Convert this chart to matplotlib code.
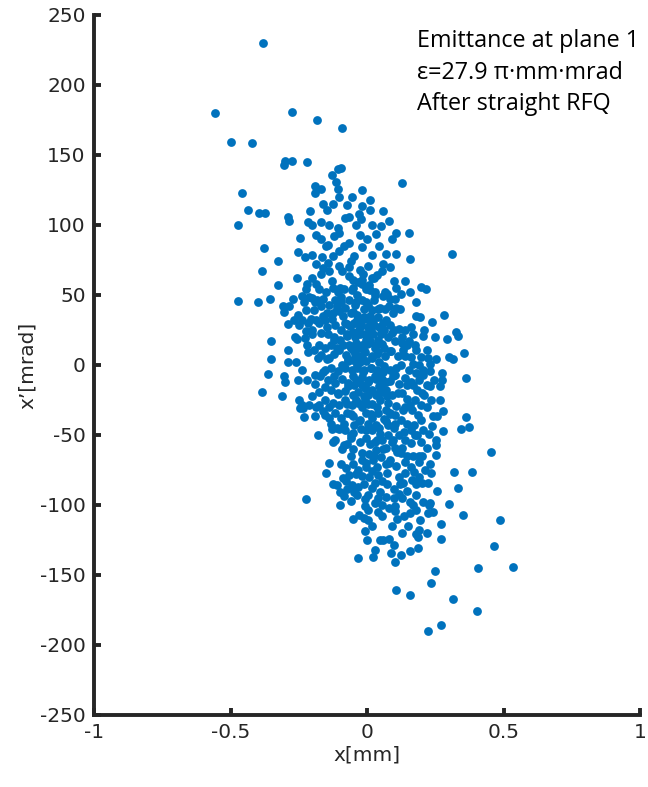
import matplotlib
matplotlib.use("Agg")
import matplotlib.pyplot as plt
import numpy as np

# ---- data ----
x_mm = [
    -0.380, -0.556, -0.499, -0.423, -0.274, -0.183, -0.093, -0.300,
    -0.305, -0.274, -0.218, -0.096, 0.128, -0.457, -0.436, -0.471,
    -0.395, -0.373, -0.376, -0.386, -0.471, -0.401, -0.356, -0.326,
    -0.326, -0.353, -0.353, -0.361, -0.386, -0.304, -0.302, -0.311,
    -0.223, -0.150, 0.311, 0.456, 0.489, 0.465, 0.535, 0.406,
    0.403, 0.314, 0.271, 0.223, 0.233, 0.250, 0.105, 0.158,
    -0.033, 0.021, 0.029, 0.047, 0.080, 0.087, 0.104, 0.098,
    0.126, 0.159, 0.188, 0.188, 0.180, 0.192, 0.195, 0.271,
    0.271, 0.353, 0.302, 0.335, 0.319, 0.386, 0.344, 0.374,
    0.361, 0.361, 0.355, 0.314, 0.302, 0.334, 0.326, 0.281,
    0.292, 0.239, 0.195, 0.217, 0.198, 0.158, 0.158, 0.154,
    0.105, 0.080, 0.050, 0.032, 0.011, -0.020, -0.030, -0.023,
    -0.066, -0.075, -0.101, -0.107, -0.114, -0.129, -0.167, -0.189,
    -0.192, -0.161, -0.147, -0.209, -0.289, -0.286, -0.215, -0.167,
    -0.140, -0.107, -0.102, -0.245, -0.185, -0.144, -0.104, -0.065,
    -0.026, -0.020, -0.047, -0.060, 0.020, 0.068, 0.107, 0.083,
    0.056, 0.036, 0.017, 0.003, -0.027, -0.014, -0.033, -0.251,
    -0.227, -0.200, -0.164, -0.143, -0.123, -0.185, -0.161, -0.140,
    -0.101, -0.092, -0.065, -0.257, -0.200, -0.186, -0.219, -0.222,
    -0.239, -0.272, -0.286, -0.305, -0.212, -0.176, -0.150, -0.125,
    -0.105, -0.083, -0.054, -0.005, 0.008, 0.029, 0.057, 0.072,
    0.083, 0.108, 0.123, 0.102, 0.080, 0.108, 0.096, -0.224,
    -0.195, -0.170, -0.140, -0.110, -0.205, -0.177, -0.155, -0.129,
    -0.089, -0.059, -0.035, -0.011, 0.018, 0.041, 0.071, 0.086,
    0.116, 0.138, 0.161, 0.168, 0.206, -0.222, -0.265, -0.257,
    -0.200, -0.170, -0.144, -0.122, -0.098, -0.072, -0.050, -0.026,
    0.002, 0.023, 0.053, 0.077, 0.101, 0.128, 0.153, 0.179,
    0.197, 0.224, 0.232, 0.274, 0.268, 0.275, 0.269, 0.278,
    0.257, 0.242, 0.239, 0.278, 0.226, 0.254, 0.251, 0.254,
    0.232, 0.236, 0.224, 0.256, 0.232, 0.227, 0.224, 0.206,
    0.179, 0.156, 0.137, 0.156, 0.146, 0.180, 0.203, 0.191,
    0.173, 0.164, 0.214, 0.147, 0.168, 0.191, 0.161, 0.176,
    0.138, 0.116, 0.128, 0.101, 0.086, 0.108, 0.116, 0.098,
    0.098, 0.104, 0.104, 0.081, 0.056, 0.041, 0.005, -0.008,
    -0.029, -0.011, 0.005, -0.008, -0.009, -0.035, -0.032, -0.072,
    -0.077, -0.056, -0.047, -0.020, -0.032, -0.053, -0.077, -0.095,
    -0.057, -0.053, -0.086, -0.102, -0.080, -0.050, -0.023, -0.020,
    0.008, 0.023, 0.035, 0.018, 0.041, 0.056, 0.074, 0.068,
    0.051, 0.033, 0.071, 0.011, -0.005, 0.020, 0.048, 0.077,
    0.077, 0.101, 0.123, 0.146, 0.173, 0.198, 0.206, 0.186,
    0.165, 0.221, 0.236, 0.209, 0.183, 0.221, 0.244, 0.206,
    0.179, 0.191, 0.168, 0.153, 0.138, 0.146, 0.128, 0.146,
    0.158, 0.132, 0.108, 0.086, 0.063, 0.041, 0.018, -0.005,
    -0.027, -0.050, -0.072, -0.095, -0.117, -0.140, -0.132, -0.161,
    -0.176, -0.155, -0.125, -0.101, -0.080, -0.056, -0.032, -0.008,
    0.018, 0.048, 0.078, 0.093, 0.071, 0.044, 0.018, -0.008,
    -0.032, -0.053, -0.080, -0.107, -0.131, -0.155, -0.177, -0.200,
    -0.212, -0.238, -0.248, -0.236, -0.245, -0.192, -0.173, -0.143,
    -0.117, -0.092, -0.068, -0.041, -0.017, 0.008, 0.029, 0.056,
    0.083, 0.104, 0.119, 0.108, 0.086, 0.063, 0.038, 0.014,
    -0.011, -0.035, -0.056, -0.080, -0.107, -0.131, -0.155, -0.189,
    -0.215, -0.218, -0.194, -0.170, -0.146, -0.122, -0.101, -0.077,
    -0.053, -0.032, -0.008, 0.017, 0.041, 0.065, 0.089, 0.113,
    0.138, 0.161, 0.131, 0.146, 0.176, 0.221, 0.251, 0.229,
    0.206, 0.191, 0.168, 0.176, 0.198, 0.183, 0.161, 0.134,
    0.198, 0.221, 0.191, 0.161, 0.138, 0.138, 0.123, 0.095,
    0.116, 0.131, 0.071, 0.048, 0.018, 0.003, 0.029, 0.056,
    0.029, 0.008, -0.005, -0.020, -0.041, -0.065, -0.087, -0.098,
    -0.110, -0.125, -0.083, -0.057, -0.116, -0.072, -0.057, -0.128,
    -0.155, -0.140, -0.192, -0.230, -0.218, -0.238, -0.253, -0.260,
    -0.290, -0.290, -0.227, -0.248, -0.238, -0.215, -0.254, -0.269,
    -0.290, -0.308, -0.200, -0.182, -0.161, -0.185, -0.147, -0.117,
    -0.095, -0.072, -0.047, -0.023, 0.002, 0.026, 0.044, 0.063,
    0.093, -0.065, -0.044, -0.020, 0.005, 0.026, 0.048, -0.035,
    -0.053, -0.020, 0.011, -0.095, -0.117, -0.080, -0.101, -0.125,
    -0.147, -0.065, -0.041, -0.017, 0.008, 0.032, 0.056, -0.087,
    -0.110, -0.132, -0.155, -0.177, -0.050, -0.026, -0.002, -0.071,
    -0.047, -0.020, 0.003, 0.033, 0.056, 0.071, 0.101, 0.033,
    0.003, -0.005, 0.056, 0.038, -0.047,
]
xp_mrad = [
    230, 180, 159.6, 158.6, 181, 175, 169, 146,
    143, 146, 145, 141, 130, 122.5, 111, 100,
    108.6, 108.6, 83.6, 67.5, 46, 45, 47, 74,
    57, 17, 4, -6.4, -19.6, -8, -12, -22,
    -95.7, -76.8, 79.6, -61.8, -110.7, -129, -144, -145,
    -175.7, -166.8, -185.7, -190, -155.7, -146.8, -161, -164.6,
    -137.9, -137, -131.8, -125, -124, -134, -141, -128.6,
    -135.4, -133, -131, -123, -121, -117.9, -110.7, -124,
    -113.6, -107, -99, -87.5, -76.4, -76.4, -45.7, -44.6,
    -36.8, -9.3, 8.6, 4.3, 5.7, 20.7, 23.6, 36,
    18.6, 30.7, 34, 54, 55.7, 52.5, 76, 94,
    94.6, 103, 99, 93.6, 111, 113.6, 108, 104.6,
    106, 114.6, 120, 125.7, 131, 136, 126, 127.5,
    123, 115, 111, 110, 106, 103, 101.8, 102.5,
    100, 98, 94.6, 90.7, 93, 86, 81.4, 87.5,
    93, 84, 78, 74, 78.6, 79, 79, 70,
    67, 64.6, 61.8, 70.7, 68, 65, 59.6, 81,
    77.5, 78.6, 77, 73, 78, 72, 69, 67.5,
    71, 67, 63.6, 62.5, 62.5, 58, 58, 54,
    49.6, 47, 41.8, 37.9, 48.6, 54.6, 52, 55,
    52, 54.6, 53.6, 54, 56.8, 52.5, 49, 50.7,
    47, 55, 51, 47, 42.5, 40.7, 36.8, 39,
    39, 42, 43, 42.5, 33, 30, 32.5, 33,
    35, 36.8, 36, 33, 31, 34, 32, 28.6,
    26, 25, 26.8, 22.5, 20.7, 24, 20, 18.6,
    21.8, 23, 22, 18, 17.9, 20.7, 23.6, 22,
    21, 22, 23, 20, 17, 15.4, 16.8, 10.7,
    5.4, 5, -4, -5.7, -15, -10.7, -25, -33,
    -36.4, -36.4, -43.6, -47, -49, -53.6, -57, -64,
    -70.7, -77, -84, -90, -98.6, -100, -106, -98,
    -103.6, -106, -108, -97.5, -90, -92.9, -84, -80,
    -76.4, -82, -75, -65, -65, -65, -56, -50,
    -53.6, -50, -59, -59, -68, -72, -80, -88.6,
    -95, -100.7, -104, -101.8, -107.9, -105, -103.6, -100.7,
    -107, -109, -110.7, -118.6, -95.7, -93, -87, -88.6,
    -82.9, -85.7, -91, -79, -75, -70.7, -73.6, -70.7,
    -65, -60, -57, -45.7, -46.4, -48.6, -45.7, -62.5,
    -63.6, -68, -73, -75.7, -78.6, -82.9, -77, -71,
    -65.7, -60.7, -59, -56.4, -51.8, -46.4, -49, -50,
    -42.9, -42, -39, -42, -42.9, -39, -46.4, -35.7,
    -32, -30, -25, -21.4, -17.9, -14.3, -10.7, -7,
    -5.4, 0, 0.7, -3.6, -9, -14.3, -20, -24,
    -28.6, -32, -29, -34, -38.6, -34, -37.5, -34,
    -39, -36.4, -34, -37.5, -34, -37.9, -42, -32.9,
    -28.6, -25, -26.8, -28.6, -25, -28.6, -27, -25,
    -27.9, -25, -27, -21.4, -17.9, -15, -17.9, -16.4,
    -19.6, -21.4, -18.6, -20.7, -17.9, -15.7, -19.3, -22,
    -28.6, -28.6, -25, -31, -31, -13.6, -7.9, -10.7,
    -12.5, -10, -12.9, -10.7, -8.9, -10.7, -7.9, -10,
    -11.4, -7, -13.6, -1.8, -3.6, -0.7, -3.6, -1.8,
    -3.6, 0, -3.6, -1.8, -4.3, -1.8, -3.6, -7,
    9, 14.3, 10.7, 7, 4.3, 7.9, 10.7, 7,
    10.7, 6.4, 9.3, 6.4, 9.3, 6.4, 10, 6.4,
    6.4, 5.4, 10.7, 14.3, 14.3, 10.7, 4.3, 0.7,
    -3.6, -10.7, -14.3, -25, -28.6, -50, -46.4, -48,
    -55, -59, -69.6, -73, -76.8, -69.6, -62.5, -53.6,
    -92, -84, -94.6, -91, -87.5, -93, -98.6, -100,
    -84, -80, -73, -68, -77.5, -78.6, -80.4, -91,
    -85.7, -85, -93.6, -97, -53.6, -56.4, -52, -45.7,
    -35.7, -30, -36.4, -37, -10.7, -3.6, -10.7, 1.8,
    10.7, 1.8, 19.6, 28.6, 32, 30, 35.7, 32,
    29, 42, 48, 46.4, 47, 32, 26.8, 28.6,
    25, 29, 30, 28.6, 26.8, 28.6, 26.8, 25,
    23, 46.4, 42.9, 46.4, 42.9, 46.4, 41, 50,
    60.7, 60.7, 53.6, 48.6, 46.4, 41, 38.6, 37.5,
    37.5, 14.3, 16, 14.3, 16, 14.3, 15, 14.3,
    12.5, 14.3, 12.5, 14.3, 3.6, 1.8, 2.9, 2.9,
    -14.3, -14.3, -21.4, -21.4, -19.6, -32, -35.7, -42.9,
    -42, -46.4, -53.6, -53.6, -42.9,
]

# additional points read from the dense core of the cloud
x_mm_core = [
    -0.010, 0.012, -0.030, 0.040, -0.060, 0.020, -0.015, 0.050,
    -0.040, 0.070, 0.000, -0.005, 0.030, -0.050, -0.080, 0.060,
    0.085, -0.090, -0.070, 0.035, 0.010, -0.025, 0.090, 0.115,
    0.125, -0.120, -0.110, 0.015, -0.045, 0.005, 0.045, -0.020,
    0.025, -0.065, -0.085, -0.040, 0.000, 0.045, -0.120, -0.150,
    -0.130, -0.170, -0.160, -0.190, -0.140, -0.160, -0.185, -0.110,
    -0.090, -0.060, -0.030, 0.060, 0.080, 0.120, 0.150, 0.130,
    0.170, 0.110, 0.075, 0.040, 0.020, -0.010, 0.100, 0.140,
    0.160, 0.200, 0.230, 0.210, 0.180, 0.120, 0.140, 0.060,
    0.090, 0.020, -0.055, -0.080, -0.020, 0.010,
    -0.035, -0.008, 0.028, 0.058, 0.072, -0.012, -0.050, -0.075,
    -0.095, -0.040, 0.005, 0.040, 0.065, -0.060, -0.020, 0.015,
    0.085, 0.110, 0.030, -0.010, 0.015, -0.030, 0.045, 0.095,
    -0.105, -0.125, -0.085, 0.065, 0.100, 0.130, -0.180, -0.200,
    -0.230, -0.170, -0.200, -0.105, -0.125, 0.060, 0.100, 0.180,
    0.250, 0.200, 0.180, 0.220, 0.240, 0.130, 0.090, 0.060,
    0.000, -0.050, -0.100, -0.140, -0.180, -0.120, -0.100, -0.045,
    0.025, -0.005,
    -0.022, 0.008, 0.038, -0.052, -0.068, 0.018, -0.002, 0.052,
    -0.038, -0.018, 0.032, 0.062, -0.028, 0.002, -0.062, 0.044,
    0.068, -0.012, 0.022, -0.042, -0.072, 0.010, 0.036, -0.006,
]
xp_mrad_core = [
    40, 35, 25, 18, 12, 5, -5, -15,
    -25, -40, 15, 45, 50, 55, 30, 30,
    10, 0, -15, -30, -45, -55, -55, -20,
    0, 20, 40, 25, 8, -12, 2, 58,
    62, 70, 85, 100, 90, 85, 92, 85,
    60, 65, 35, 45, 5, -5, -30, -45,
    -60, -35, -40, -60, -70, -85, -115, -120,
    -100, -110, -85, -95, -115, -85, -45, -30,
    -12, -20, -15, 25, 35, 40, 60, 72,
    90, 100, 120, 105, 125, 118,
    32, 22, 12, -5, -22, -22, -8, 22,
    45, 45, 33, 40, 52, -50, -30, -35,
    -35, -62, -55, 10, -2, -12, -45, -8,
    -20, -55, -42, 40, 25, 20, 5, 25,
    45, 90, 100, 140, 115, 110, 60, 45,
    20, -65, -85, -120, -105, -95, -115, -125,
    -125, -110, -100, -70, -50, -8, 55, 20,
    -65, -70,
    28, 28, 8, 38, 4, 39, 18, 22,
    -2, 5, -10, 12, 12, -28, 28, -20,
    -12, 34, 32, 30, -28, 17, -6, -16,
]

x_ticks = [-1, -0.5, 0, 0.5, 1]
x_tick_labels = ["-1", "-0.5", "0", "0.5", "1"]
y_ticks = [-250, -200, -150, -100, -50, 0, 50, 100, 150, 200, 250]
annotation_lines = ["Emittance at plane 1", "\u03b5=27.9 \u03c0\u00b7mm\u00b7mrad", "After straight RFQ"]

all_x = x_mm + x_mm_core
all_y = xp_mrad + xp_mrad_core
n = min(len(all_x), len(all_y))
print(len(x_mm), len(xp_mrad), len(x_mm_core), len(xp_mrad_core))

fig = plt.figure(figsize=(6.48, 7.87), dpi=100)
ax = fig.add_axes([94 / 648, 1 - 715 / 787, (640 - 94) / 648, 700 / 787])

ax.scatter(all_x[:n], all_y[:n], s=40, color="#0072BD", linewidths=0, zorder=3)

ax.set_xlim(-1, 1)
ax.set_ylim(-250, 250)
ax.set_xticks(x_ticks)
ax.set_xticklabels(x_tick_labels)
ax.set_yticks(y_ticks)
ax.set_yticklabels([str(v) for v in y_ticks])

for side in ("top", "right"):
    ax.spines[side].set_visible(False)
for side in ("left", "bottom"):
    ax.spines[side].set_linewidth(2.8)
    ax.spines[side].set_color("#262626")

ax.tick_params(axis="both", direction="in", length=5, width=2.8, color="#262626",
               labelsize=14.5, labelcolor="#262626", pad=6)
for lab in ax.get_xticklabels() + ax.get_yticklabels():
    lab.set_fontfamily("DejaVu Sans")

ax.set_xlabel("x[mm]", fontsize=14.5, color="#262626", labelpad=2)
ax.set_ylabel("x\u2019[mrad]", fontsize=14.5, color="#262626", labelpad=2)

fig.text(417 / 648, 1 - 29 / 787, "\n".join(annotation_lines), fontsize=16.8,
         family=["Open Sans", "DejaVu Sans"], va="top", ha="left",
         linespacing=1.42, color="black")

fig.savefig("out.png", dpi=100)
